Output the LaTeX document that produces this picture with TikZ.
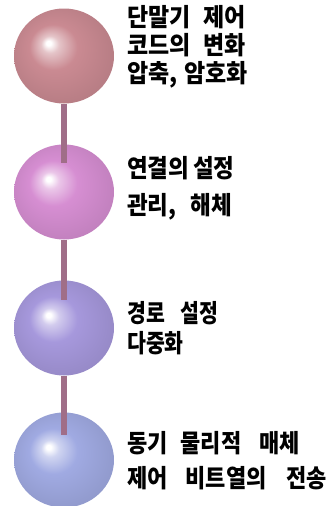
\documentclass[tikz,border=0pt]{standalone}
\usepackage{fontspec}
\usetikzlibrary{shapes.geometric}

% Korean label faces, slightly different widths per group
\newfontfamily\krA[FakeStretch=0.92]{Noto Sans CJK KR}
\newfontfamily\krB[FakeStretch=0.90]{Noto Sans CJK KR}
\newfontfamily\krC[FakeStretch=0.82]{Noto Sans CJK KR}
\newfontfamily\krD[FakeStretch=0.88]{Noto Sans CJK KR}
\newcommand\fA{\krA\bfseries\fontsize{25pt}{25pt}\selectfont}
\newcommand\fB{\krB\bfseries\fontsize{25pt}{25pt}\selectfont}
\newcommand\fC{\krC\bfseries\fontsize{25pt}{25pt}\selectfont}
\newcommand\fD{\krD\bfseries\fontsize{25pt}{25pt}\selectfont}

\definecolor{ballA}{RGB}{202,138,146}
\definecolor{ballB}{RGB}{214,142,210}
\definecolor{ballC}{RGB}{166,152,220}
\definecolor{ballD}{RGB}{160,170,226}
\definecolor{stem}{RGB}{160,110,136}

% glossy ball shading with a highlight up and to the left
% (the middle 50bp square of the shading covers the ball)
\newcommand\defball[2]{\pgfdeclareradialshading{#1}{\pgfpoint{-8bp}{7bp}}{%
  color(0bp)=(white); color(1.2bp)=(white); color(4.5bp)=(#2!50!white);
  color(12bp)=(#2); color(25bp)=(#2!92!black); color(36bp)=(#2!86!black)}}
\defball{shA}{ballA}
\defball{shB}{ballB}
\defball{shC}{ballC}
\defball{shD}{ballD}

\tikzset{
  ball/.style={ellipse, minimum width=100pt, minimum height=95pt, inner sep=0pt, shading=#1},
  stemline/.style={draw=stem, line width=6pt},
  lbl/.style={anchor=base west, inner sep=0pt, text=black}
}

\begin{document}
\begin{tikzpicture}[x=1pt,y=-1pt]
\useasboundingbox (0,0) rectangle (331,506);

% balls
\node[ball=shA] (s1) at (64,56) {};
\node[ball=shB] (s2) at (64,192) {};
\node[ball=shC] (s3) at (64,328) {};
\node[ball=shD] (s4) at (64,460) {};

% stem ends inside the next ball
\coordinate (e2) at (64,163);
\coordinate (e3) at (64,300);
\coordinate (e4) at (64,435);

\draw[stemline] (s1.south) -- (e2);
\draw[stemline] (s2.south) -- (e3);
\draw[stemline] (s3.south) -- (e4);

% labels
\node[lbl, font=\fA] (t1a) at (127,27) {단말기\hspace{13pt}제어};
\node[lbl, font=\fA] (t1b) at (127,54) {코드의\hspace{13pt}변화};
\node[lbl, font=\fA] (t1c) at (127,82) {압축,\hspace{7pt}암호화};

\node[lbl, font=\fB] (t2a) at (127,177) {연결의\hspace{4pt}설정};
\node[lbl, font=\fB] (t2b) at (127,214) {관리,\hspace{14pt}해체};

\node[lbl, font=\fC] (t3a) at (127,322) {경로\hspace{16pt}설정};
\node[lbl, font=\fC] (t3b) at (127,352) {다중화};

\node[lbl, font=\fD] (t4a) at (127,452) {동기\hspace{13pt}물리적\hspace{18pt}매체};
\node[lbl, font=\fD] (t4b) at (127,487) {제어\hspace{18pt}비트열의\hspace{20pt}전송};
\end{tikzpicture}
\end{document}
